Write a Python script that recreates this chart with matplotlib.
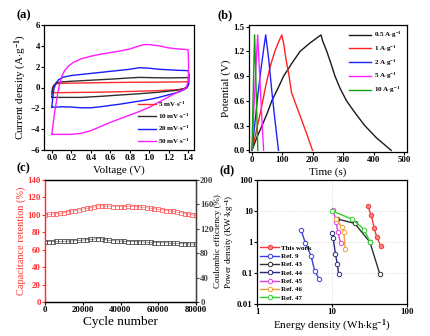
import numpy as np
import matplotlib
matplotlib.use('Agg')
import matplotlib.pyplot as plt
from matplotlib.ticker import FixedLocator, NullLocator

plt.rcParams['font.family'] = 'Liberation Serif'
plt.rcParams['font.weight'] = 'bold'
plt.rcParams['mathtext.fontset'] = 'custom'
plt.rcParams['mathtext.rm'] = 'Liberation Serif:bold'
plt.rcParams['mathtext.it'] = 'Liberation Serif:bold'
plt.rcParams['mathtext.bf'] = 'Liberation Serif:bold'
plt.rcParams['axes.linewidth'] = 0.9
plt.rcParams['xtick.major.size'] = 2.0
plt.rcParams['ytick.major.size'] = 2.0
plt.rcParams['xtick.major.pad'] = 1.2
plt.rcParams['ytick.major.pad'] = 1.0

# ---- (a) CV loops: voltage (V) and current density (A/g)
cv_labels = [r'5 mV$\cdot$s$^{-1}$', r'10 mV$\cdot$s$^{-1}$',
             r'20 mV$\cdot$s$^{-1}$', r'50 mV$\cdot$s$^{-1}$']
cv_colors = ['#ff2a2a', '#303030', '#1a1aff', '#ff1aff']
cv5_v = [0.0, 0.005, 0.02, 0.05, 0.1, 0.4, 0.8, 1.2, 1.4, 1.405, 1.39, 1.37,
         1.3, 1.1, 0.8, 0.5, 0.2, 0.0]
cv5_i = [-0.5, -0.1, 0.2, 0.35, 0.4, 0.45, 0.5, 0.52, 0.55, 0.35, 0.05, -0.08,
         -0.2, -0.3, -0.38, -0.45, -0.48, -0.5]
cv10_v = [0.0, 0.005, 0.015, 0.04, 0.08, 0.2, 0.4, 0.6, 0.8, 0.9, 1.0, 1.2, 1.4,
          1.405, 1.39, 1.36, 1.3, 1.1, 0.9, 0.7, 0.5, 0.3, 0.1, 0.0]
cv10_i = [-0.95, -0.4, 0.1, 0.4, 0.52, 0.6, 0.7, 0.8, 0.92, 0.97, 0.95, 0.92, 0.95,
          0.6, 0.1, -0.1, -0.25, -0.45, -0.6, -0.72, -0.85, -0.95, -0.95, -0.95]
cv20_v = [0.0, 0.01, 0.02, 0.04, 0.07, 0.12, 0.2, 0.3, 0.4, 0.5, 0.6, 0.7, 0.8,
          0.9, 1.0, 1.1, 1.2, 1.3, 1.4, 1.41, 1.405, 1.39, 1.36, 1.3, 1.2, 1.1,
          1.0, 0.9, 0.8, 0.7, 0.6, 0.5, 0.4, 0.3, 0.2, 0.1, 0.0]
cv20_i = [-1.9, -1.0, -0.2, 0.4, 0.75, 1.0, 1.15, 1.25, 1.35, 1.45, 1.55, 1.65,
          1.75, 1.9, 1.85, 1.75, 1.7, 1.65, 1.62, 1.2, 0.3, 0.0, -0.2, -0.45,
          -0.7, -0.95, -1.15, -1.3, -1.45, -1.6, -1.72, -1.85, -1.95, -1.95,
          -1.88, -1.85, -1.9]
cv50_v = [0.0, 0.01, 0.027, 0.045, 0.06, 0.08, 0.1, 0.13, 0.17, 0.22, 0.3, 0.4,
          0.5, 0.6, 0.7, 0.8, 0.9, 0.95, 1.0, 1.1, 1.2, 1.3, 1.38, 1.4, 1.405,
          1.4, 1.385, 1.36, 1.3, 1.2, 1.1, 1.0, 0.9, 0.8, 0.7, 0.6, 0.5, 0.4,
          0.3, 0.2, 0.1, 0.0]
cv50_i = [-4.5, -3.8, -2.5, -1.5, -0.6, 0.3, 1.0, 1.6, 2.05, 2.4, 2.75, 3.0,
          3.2, 3.35, 3.5, 3.7, 4.0, 4.12, 4.12, 4.0, 3.8, 3.7, 3.65, 3.6, 2.0,
          0.6, 0.1, -0.15, -0.4, -0.9, -1.4, -1.9, -2.3, -2.65, -3.0, -3.35,
          -3.75, -4.15, -4.4, -4.5, -4.5, -4.5]

# ---- (b) charge-discharge curves: time (s) and potential (V)
gcd_labels = [r'0.5 A$\cdot$g$^{-1}$', r'1 A$\cdot$g$^{-1}$', r'2 A$\cdot$g$^{-1}$',
              r'5 A$\cdot$g$^{-1}$', r'10 A$\cdot$g$^{-1}$']
gcd_colors = ['#1a1a1a', '#ff2020', '#2020ff', '#ff20ff', '#10a010']
gcd05_t = [0, 15, 33, 50, 65, 85, 104, 130, 158, 190, 227, 232, 246, 260, 273,
           290, 311, 340, 371, 410, 458]
gcd05_v = [0, 0.15, 0.3, 0.45, 0.6, 0.75, 0.9, 1.05, 1.2, 1.3, 1.4, 1.33, 1.2,
           1.05, 0.9, 0.75, 0.6, 0.45, 0.3, 0.15, 0]
gcd1_t = [0, 15, 30, 45, 60, 75, 88, 98, 104, 112, 122, 130, 145, 160, 180, 199]
gcd1_v = [0, 0.25, 0.5, 0.78, 1.02, 1.2, 1.32, 1.4, 1.3, 1.1, 0.9, 0.7, 0.55,
          0.4, 0.2, 0]
gcd2_t = [0, 10, 20, 30, 38, 45, 55, 65, 75, 87]
gcd2_v = [0, 0.35, 0.7, 1.0, 1.22, 1.4, 1.1, 0.72, 0.38, 0]
gcd5_t = [0, 6, 12, 18.5, 24, 30, 38]
gcd5_v = [0, 0.5, 0.95, 1.4, 1.0, 0.55, 0]
gcd10_t = [0, 3, 6, 8.5, 12, 15.5, 19]
gcd10_v = [0, 0.55, 1.05, 1.4, 0.95, 0.45, 0]

# ---- (c) cycling stability
cycles = list(range(0, 80001, 2000))
retention = [100, 100.5, 101, 101.5, 102, 102.5, 103.5, 104, 105, 105.5, 106.5,
             107.5, 108, 109, 110, 110.5, 110, 110, 109.5, 109.5, 109.5, 109.5,
             110, 109.5, 109.5, 109, 108.5, 108, 107.5, 107, 106.5, 106, 105,
             104.5, 104, 103, 102.5, 101.5, 101, 100, 99.5]
coulombic = [99, 99, 99, 99.5, 99.5, 99.5, 100, 100, 100.5, 101, 101.5, 102,
             102.5, 103, 104, 103.5, 102, 101, 100.5, 100, 100, 99.5, 99, 99,
             99, 98.5, 98.5, 98, 98, 97.5, 97.5, 97, 97, 96.5, 96, 96, 95.5,
             95.5, 95, 95, 95]

# ---- (d) Ragone plot: energy density (Wh/kg) and power density (kW/kg)
rag_labels = ['This work', 'Ref. 9', 'Ref. 43', 'Ref. 44', 'Ref. 45', 'Ref. 46', 'Ref. 47']
rag_colors = ['#f03c3c', '#3c3cdc', '#303030', '#2a2a80', '#e040e0', '#f0a030', '#30d030']
this_e = [29.9, 33.5, 36.3, 39.4, 45.0]
this_p = [14.6, 7.2, 2.9, 1.46, 0.72]
ref9_e = [3.86, 4.41, 5.25, 5.87, 6.78]
ref9_p = [2.5, 0.93, 0.36, 0.12, 0.062]
ref43_e = [11.5, 20, 32, 43.5]
ref43_p = [5.6, 4.0, 1.0, 0.09]
ref44_e = [9.9, 10.4, 11.1, 11.8, 12.3]
ref44_p = [1.96, 1.32, 0.41, 0.19, 0.09]
ref45_e = [10.4, 11.3, 12.0, 13.0]
ref45_p = [11.1, 4.4, 2.07, 0.93]
ref46_e = [11.3, 13.6, 14.3, 15.1]
ref46_p = [5.6, 3.0, 2.07, 0.59]
ref47_e = [10.0, 18.5, 27.0, 32.0]
ref47_p = [10.0, 5.5, 2.5, 1.0]

W, H = 431, 336
fig = plt.figure(figsize=(W / 100, H / 100), dpi=100)


def box(l, t, r, b):
    return [l / W, 1 - b / H, (r - l) / W, (b - t) / H]


tick_fs = 6.3

# (a)
ax1 = fig.add_axes(box(44, 25, 194, 150))
for v, i, c, lab in zip([cv5_v, cv10_v, cv20_v, cv50_v], [cv5_i, cv10_i, cv20_i, cv50_i],
                        cv_colors, cv_labels):
    ax1.plot(v, i, color=c, lw=1.0, label=lab)
ax1.set_xlim(-0.08, 1.46)
ax1.set_ylim(-6, 6)
ax1.set_xticks(np.arange(0, 1.41, 0.2))
ax1.set_xticklabels(['0.0', '0.2', '0.4', '0.6', '0.8', '1.0', '1.2', '1.4'])
ax1.set_yticks(range(-6, 7, 2))
ax1.tick_params(labelsize=tick_fs, width=0.8)
ax1.set_xlabel('Voltage (V)', fontsize=8, labelpad=2)
ax1.set_ylabel(r'Current density (A$\cdot$g$^{-1}$)', fontsize=8, labelpad=1)
ax1.legend(loc='lower right', frameon=False, fontsize=5, handlelength=2.6,
           handletextpad=0.4, labelspacing=0.45, borderaxespad=0.2)
fig.text(17 / W, 1 - 15 / H, '(a)', fontsize=9, va='center')

# (b)
ax2 = fig.add_axes(box(249, 25, 407, 152))
for t, v, c, lab in zip([gcd05_t, gcd1_t, gcd2_t, gcd5_t, gcd10_t],
                        [gcd05_v, gcd1_v, gcd2_v, gcd5_v, gcd10_v], gcd_colors, gcd_labels):
    ax2.plot(t, v, color=c, lw=1.0, label=lab)
ax2.set_xlim(-10, 510)
ax2.set_ylim(-0.02, 1.52)
ax2.set_xticks(range(0, 501, 100))
ax2.set_yticks([0, 0.3, 0.6, 0.9, 1.2, 1.5])
ax2.set_yticklabels(['0.0', '0.3', '0.6', '0.9', '1.2', '1.5'])
ax2.tick_params(labelsize=tick_fs, width=0.8)
ax2.set_xlabel('Time (s)', fontsize=8, labelpad=2)
ax2.set_ylabel('Potential (V)', fontsize=8, labelpad=2)
ax2.legend(loc='upper right', frameon=False, fontsize=5, handlelength=3.2,
           handletextpad=0.4, labelspacing=0.5, borderaxespad=0.3)
fig.text(218 / W, 1 - 15 / H, '(b)', fontsize=9, va='center')

# (c)
red_c = '#ff3030'
ax3 = fig.add_axes(box(45, 180, 196, 302))
ax3.plot(cycles, retention, color='#ff6060', marker='s', ms=2.6, mfc='none',
         mew=0.6, lw=0.4)
ax3.set_xlim(0, 80000)
ax3.set_ylim(0, 140)
ax3.set_xticks(range(0, 80001, 20000))
ax3.set_yticks(range(0, 141, 20))
ax3.tick_params(axis='x', labelsize=tick_fs, width=0.8)
ax3.tick_params(axis='y', labelsize=tick_fs, width=0.8, colors=red_c)
ax3.spines['left'].set_color(red_c)
ax3.set_xlabel('Cycle number', fontsize=9.5, labelpad=1)
ax3.set_ylabel('Capacitance retention (%)', fontsize=7.5, color=red_c, labelpad=1)
ax3b = ax3.twinx()
ax3b.plot(cycles, coulombic, color='#505050', marker='s', ms=2.6, mfc='none',
          mew=0.6, lw=0.4)
ax3b.set_ylim(0, 200)
ax3b.set_yticks(range(0, 201, 40))
ax3b.tick_params(labelsize=tick_fs, width=0.8, colors='#404040')
ax3b.spines['left'].set_color(red_c)
ax3b.spines['right'].set_color('#404040')
ax3b.set_ylabel('Coulombic efficiency (%)', fontsize=6.5)
# right label: anchor is its left edge
ax3b.yaxis.set_label_coords((214.5 - 45) / 151, 0.5)
fig.text(17 / W, 1 - 168 / H, '(c)', fontsize=9, va='center')

# (d)
ax4 = fig.add_axes(box(257, 180, 407, 304))
rag_e = [this_e, ref9_e, ref43_e, ref44_e, ref45_e, ref46_e, ref47_e]
rag_p = [this_p, ref9_p, ref43_p, ref44_p, ref45_p, ref46_p, ref47_p]
for k, (e, p, c, lab) in enumerate(zip(rag_e, rag_p, rag_colors, rag_labels)):
    face = '#ff8080' if k == 0 else 'white'
    ax4.plot(e, p, color=c, lw=1.0, marker='o', ms=3.2, mfc=face, mec=c,
             mew=0.7, label=lab)
ax4.set_xscale('log')
ax4.set_yscale('log')
ax4.set_xlim(1, 100)
ax4.set_ylim(0.01, 100)
ax4.xaxis.set_major_locator(FixedLocator([1, 10, 100]))
ax4.xaxis.set_minor_locator(NullLocator())
ax4.yaxis.set_major_locator(FixedLocator([0.01, 0.1, 1, 10, 100]))
ax4.yaxis.set_minor_locator(NullLocator())
ax4.set_xticklabels(['1', '10', '100'])
ax4.set_yticklabels(['0.01', '0.1', '1', '10', '100'])
ax4.grid(True, color='#d0d0d0', lw=0.6, ls=':')
ax4.tick_params(labelsize=tick_fs, width=0.8)
ax4.set_xlabel(r'Energy density (Wh$\cdot$kg$^{-1}$)', fontsize=8, labelpad=1)
ax4.set_ylabel(r'Power density (KW$\cdot$kg$^{-1}$)', fontsize=6.5)
# left label: anchor is its right edge
ax4.yaxis.set_label_coords((236.5 - 257) / 150, 0.5)
ax4.legend(loc='lower left', frameon=False, fontsize=5, handlelength=2.6,
           handletextpad=0.4, labelspacing=0.35, borderaxespad=0.1)
fig.text(220 / W, 1 - 170 / H, '(d)', fontsize=9, va='center')

fig.savefig('out.png', dpi=100, facecolor='white')
